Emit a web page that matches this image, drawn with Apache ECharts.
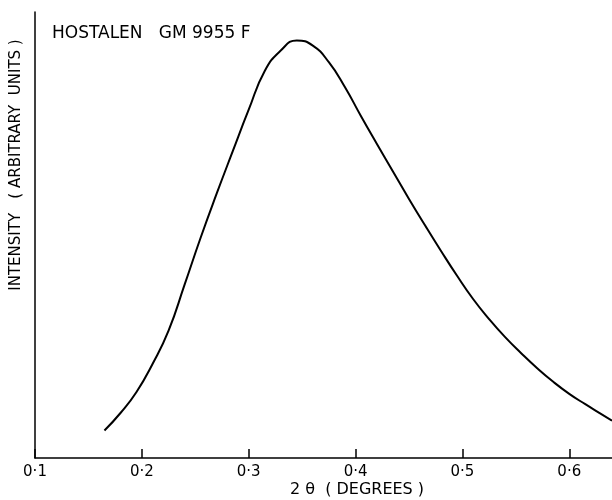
<!DOCTYPE html>
<html>
<head>
<meta charset="utf-8">
<script src="https://cdn.jsdelivr.net/npm/echarts@6/dist/echarts.min.js"></script>
<style>html,body{margin:0;padding:0;background:#fff}#c{width:612px;height:500px}</style>
</head>
<body>
<div id="c"></div>
<script>
var twoTheta = [0.165,0.18,0.195,0.21,0.225,0.24,0.255,0.27,0.285,0.30,0.315,0.33,0.345,0.36,0.375,0.39,0.405,0.42,0.435,0.45,0.465,0.48,0.495,0.51,0.525,0.54,0.555,0.57,0.585,0.60,0.615,0.63,0.64];
var intensity = [6.17,10.09,14.80,21.08,28.54,38.86,49.39,59.26,68.74,78.09,86.77,91.37,93.63,92.47,88.74,83.18,76.68,70.40,64.24,58.09,52.17,46.41,40.85,35.65,31.14,27.09,23.50,20.13,17.09,14.39,12.06,9.84,8.36];
var tickValues = [0.1,0.2,0.3,0.4,0.5,0.6];
var tickLabels = ['0·1','0·2','0·3','0·4','0·5','0·6'];
var titleText = 'HOSTALEN   GM 9955 F';
var xName = '2 θ  ( DEGREES )';
var yName = 'INTENSITY   ( ARBITRARY  UNITS )';

var data = twoTheta.map(function(x,i){return [x,intensity[i]];});
var font = '"DejaVu Sans", sans-serif';
var chart = echarts.init(document.getElementById('c'), null, {renderer:'canvas'});
chart.setOption({
  animation:false,
  backgroundColor:'#fff',
  grid:{left:35,right:0,top:12,bottom:42,containLabel:false},
  xAxis:{
    type:'value',min:0.1,max:0.64,interval:0.1,
    axisLine:{show:true,lineStyle:{color:'#000',width:1.5}},
    axisTick:{show:true,inside:true,length:9,lineStyle:{color:'#000',width:1.5}},
    axisLabel:{show:true,color:'#000',fontFamily:font,fontSize:15,margin:7,showMaxLabel:false,
      formatter:function(v){
        for(var i=0;i<tickValues.length;i++){ if(Math.abs(v-tickValues[i])<1e-6) return tickLabels[i]; }
        return '';
      }},
    splitLine:{show:false}
  },
  yAxis:{
    type:'value',min:0,max:100,
    axisLine:{show:true,lineStyle:{color:'#000',width:1.5}},
    axisTick:{show:false},axisLabel:{show:false},splitLine:{show:false}
  },
  graphic:[
    {type:'text',left:52,top:25,style:{text:titleText,font:'17px '+font,fill:'#000'}},
    {type:'text',x:357,y:490,style:{text:xName,font:'16px '+font,fill:'#000',align:'center',verticalAlign:'middle'}},
    {type:'text',x:16,y:165,rotation:Math.PI/2,style:{text:yName,font:'15px '+font,fill:'#000',align:'center',verticalAlign:'middle'}}
  ],
  series:[{
    type:'line',data:data,smooth:0.5,showSymbol:false,
    lineStyle:{color:'#000',width:2}
  }]
});
</script>
</body>
</html>
